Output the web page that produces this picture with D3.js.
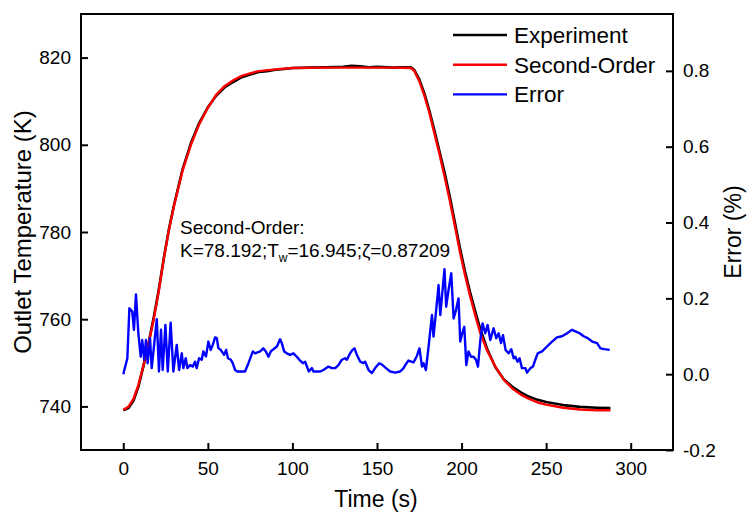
<!DOCTYPE html>
<html>
<head>
<meta charset="utf-8">
<script src="https://cdn.jsdelivr.net/npm/d3@7"></script>
<style>
  body { margin: 0; background: #fff; }
  text { font-family: Arial, "Liberation Sans", sans-serif; fill: #000; }
</style>
</head>
<body>
<div id="chart"></div>
<script>
// experiment (black)
const expTime = [0, 3, 6, 9, 12, 15, 18, 21, 24, 27, 30, 35, 40, 45, 50, 55, 60, 65, 70, 75, 80, 85, 90, 95, 100, 110, 120, 130, 135, 140, 145, 150, 160, 165, 170, 172, 175, 178, 181, 184, 187, 190, 193, 196, 199, 202, 205, 208, 211, 215, 220, 225, 230, 235, 240, 245, 250, 260, 270, 280, 288];
const expTemp = [739.1, 739.6, 741.3, 744.6, 749.4, 754.6, 760.4, 766.8, 774.1, 780.7, 786.2, 794.3, 800.4, 805.1, 808.6, 811.3, 813.2, 814.4, 815.5, 816.1, 816.7, 816.9, 817.2, 817.4, 817.6, 817.7, 817.8, 817.9, 818.1, 818.0, 817.8, 817.9, 817.7, 817.8, 817.8, 817.2, 815.0, 811.8, 807.8, 803.2, 798.4, 793.6, 788.2, 782.3, 776.4, 771.0, 766.2, 761.9, 757.8, 753.3, 749.0, 746.2, 744.5, 743.2, 742.2, 741.5, 741.0, 740.3, 739.9, 739.7, 739.6];

// second-order model (red)
const fitTime = [0, 3, 6, 9, 12, 15, 18, 21, 24, 27, 30, 35, 40, 45, 50, 55, 60, 65, 70, 75, 80, 90, 100, 120, 140, 160, 170, 172, 175, 178, 181, 184, 187, 190, 193, 196, 199, 202, 205, 208, 211, 215, 220, 225, 230, 235, 240, 245, 250, 260, 270, 280, 288];
const fitTemp = [739.2, 739.9, 741.7, 745.0, 749.5, 754.5, 760.0, 766.5, 774.0, 780.5, 786.0, 794.0, 800.0, 804.8, 808.5, 811.5, 813.5, 814.8, 815.8, 816.4, 816.9, 817.3, 817.6, 817.7, 817.7, 817.7, 817.6, 817.0, 814.6, 811.3, 807.3, 802.5, 797.8, 792.6, 787.3, 781.5, 775.5, 770.2, 765.4, 761.0, 756.9, 752.9, 749.1, 746.1, 744.1, 742.7, 741.7, 740.9, 740.4, 739.7, 739.3, 739.1, 739.1];

// error (blue, %)
const errTime = [0, 2.4, 3.6, 5.3, 6.3, 7.5, 8.9, 10.3, 11.2, 12.4, 13.4, 14.4, 15.8, 16.8, 19.8, 21.1, 22.3, 23.3, 24.9, 26.3, 28.0, 29.6, 31.6, 33.0, 34.6, 35.5, 36.9, 37.9, 39.5, 41.1, 42.4, 43.4, 44.8, 46.4, 47.3, 48.9, 50.3, 51.7, 52.9, 54.3, 55.3, 56.2, 57.6, 59.6, 60.8, 61.9, 63.6, 64.7, 66.1, 67.5, 70.1, 72.0, 74.0, 76.6, 77.9, 80.9, 82.8, 84.3, 85.8, 87.2, 90.8, 92.7, 93.7, 95.1, 96.7, 98.6, 100.6, 102.6, 104.1, 106.2, 107.5, 109.7, 110.5, 111.5, 112.4, 114.4, 116.4, 118.3, 121.3, 123.3, 125.3, 127.2, 129.2, 131.2, 132.2, 134.1, 135.5, 136.7, 138.1, 140.1, 142.0, 143.0, 145.0, 147.0, 148.9, 151.3, 153.3, 155.3, 157.8, 160.8, 163.7, 165.7, 166.7, 168.6, 171.6, 173.6, 175.1, 176.6, 177.5, 178.9, 180.5, 182.5, 183.4, 184.9, 186.4, 187.4, 188.4, 189.9, 190.9, 192.3, 193.9, 195.3, 196.7, 198.2, 199.2, 200.4, 201.6, 202.8, 204.1, 205.6, 207.1, 208.5, 209.7, 211.1, 212.4, 214.0, 215.4, 217.0, 218.9, 220.5, 221.9, 223.3, 224.5, 226.0, 227.8, 229.4, 230.8, 231.8, 233.1, 234.3, 235.7, 237.7, 238.7, 240.7, 242.2, 243.6, 245.0, 247.6, 250.5, 253.5, 256.4, 259.4, 262.4, 265.3, 267.3, 269.8, 272.2, 274.6, 277.2, 280.1, 282.1, 284.4, 287.6];
const errValue = [0.0, 0.042, 0.174, 0.165, 0.117, 0.21, 0.108, 0.046, 0.09, 0.038, 0.09, 0.029, 0.095, 0.016, 0.145, 0.007, 0.117, 0.011, 0.13, 0.007, 0.136, 0.007, 0.077, 0.011, 0.055, 0.016, 0.042, 0.016, 0.024, 0.02, 0.033, 0.016, 0.042, 0.038, 0.06, 0.047, 0.086, 0.064, 0.077, 0.097, 0.095, 0.069, 0.064, 0.051, 0.064, 0.042, 0.038, 0.029, 0.011, 0.007, 0.007, 0.007, 0.029, 0.06, 0.055, 0.06, 0.068, 0.06, 0.046, 0.06, 0.073, 0.092, 0.082, 0.06, 0.055, 0.051, 0.055, 0.046, 0.038, 0.029, 0.033, 0.007, 0.011, 0.016, 0.007, 0.007, 0.007, 0.011, 0.02, 0.016, 0.016, 0.024, 0.038, 0.042, 0.038, 0.055, 0.064, 0.068, 0.051, 0.033, 0.029, 0.033, 0.011, 0.003, 0.016, 0.029, 0.024, 0.016, 0.007, 0.004, 0.007, 0.016, 0.024, 0.036, 0.031, 0.048, 0.068, 0.02, 0.029, 0.011, 0.073, 0.156, 0.099, 0.165, 0.235, 0.156, 0.204, 0.277, 0.178, 0.222, 0.266, 0.147, 0.169, 0.2, 0.086, 0.108, 0.125, 0.024, 0.06, 0.046, 0.046, 0.038, 0.02, 0.09, 0.134, 0.108, 0.13, 0.09, 0.121, 0.095, 0.108, 0.082, 0.103, 0.064, 0.055, 0.066, 0.042, 0.046, 0.033, 0.042, 0.016, 0.016, 0.004, 0.016, 0.02, 0.038, 0.055, 0.06, 0.073, 0.086, 0.097, 0.1, 0.108, 0.117, 0.113, 0.108, 0.1, 0.095, 0.086, 0.082, 0.068, 0.066, 0.064];

const xTicks = [0, 50, 100, 150, 200, 250, 300];
const leftTicks = [740, 760, 780, 800, 820];
const rightTicks = [-0.2, 0.0, 0.2, 0.4, 0.6, 0.8];
const rightTickLabels = ["-0.2", "0.0", "0.2", "0.4", "0.6", "0.8"];

const seriesNames = ["Experiment", "Second-Order", "Error"];
const seriesColors = ["#000000", "#ff0000", "#0000ff"];

const W = 748, H = 513;
const plot = { left: 81, right: 673, top: 14, bottom: 450 };

const svg = d3.select("#chart").append("svg")
  .attr("width", W)
  .attr("height", H);

const x = d3.scaleLinear().domain([-25, 325]).range([plot.left, plot.right]);
const yL = d3.scaleLinear().domain([730, 830]).range([plot.bottom, plot.top]);
const yR = d3.scaleLinear().domain([-0.2, 0.95]).range([plot.bottom, plot.top]);

// Axes (ticks inward)
const gx = svg.append("g")
  .attr("transform", `translate(0,${plot.bottom})`)
  .call(d3.axisBottom(x).tickValues(xTicks).tickSize(-7).tickPadding(12));

const gl = svg.append("g")
  .attr("transform", `translate(${plot.left},0)`)
  .call(d3.axisLeft(yL).tickValues(leftTicks).tickSize(-7).tickPadding(10));

const gr = svg.append("g")
  .attr("transform", `translate(${plot.right},0)`)
  .call(d3.axisRight(yR).tickValues(rightTicks)
    .tickFormat((d, i) => rightTickLabels[i]).tickSize(-7).tickPadding(10));

[gx, gl, gr].forEach(g => {
  g.select(".domain").remove();
  g.selectAll(".tick line").attr("stroke", "#000").attr("stroke-width", 2);
  g.selectAll(".tick text").style("font-size", "19px").attr("fill", "#000");
});

// Lines
const lineL = d3.line().x(d => x(d[0])).y(d => yL(d[1]));
const lineR = d3.line().x(d => x(d[0])).y(d => yR(d[1]));

svg.append("path")
  .datum(d3.zip(expTime, expTemp))
  .attr("d", lineL)
  .attr("fill", "none")
  .attr("stroke", seriesColors[0])
  .attr("stroke-width", 2.6)
  .attr("stroke-linejoin", "round");

svg.append("path")
  .datum(d3.zip(fitTime, fitTemp))
  .attr("d", lineL)
  .attr("fill", "none")
  .attr("stroke", seriesColors[1])
  .attr("stroke-width", 2.4)
  .attr("stroke-linejoin", "round");

svg.append("path")
  .datum(d3.zip(errTime, errValue))
  .attr("d", lineR)
  .attr("fill", "none")
  .attr("stroke", seriesColors[2])
  .attr("stroke-width", 2.4)
  .attr("stroke-linejoin", "round");

// Frame
svg.append("rect")
  .attr("x", plot.left)
  .attr("y", plot.top)
  .attr("width", plot.right - plot.left)
  .attr("height", plot.bottom - plot.top)
  .attr("fill", "none")
  .attr("stroke", "#000")
  .attr("stroke-width", 2);

// Axis titles
const midY = (plot.top + plot.bottom) / 2;

svg.append("text")
  .attr("x", (plot.left + plot.right) / 2 - 1)
  .attr("y", 507)
  .attr("text-anchor", "middle")
  .style("font-size", "23px")
  .text("Time (s)");

svg.append("text")
  .attr("transform", `translate(31,${midY}) rotate(-90)`)
  .attr("text-anchor", "middle")
  .style("font-size", "24px")
  .text("Outlet Temperature (K)");

svg.append("text")
  .attr("transform", `translate(741,${midY}) rotate(-90)`)
  .attr("text-anchor", "middle")
  .style("font-size", "23px")
  .text("Error (%)");

// Annotation
svg.append("text")
  .attr("x", 180)
  .attr("y", 234)
  .style("font-size", "19px")
  .text("Second-Order:");

const ann = svg.append("text")
  .attr("x", 180)
  .attr("y", 257)
  .style("font-size", "19px");
ann.append("tspan").text("K=78.192;T");
ann.append("tspan").attr("dy", 5).style("font-size", "12px").text("w");
ann.append("tspan").attr("dy", -5).text("=16.945;ζ=0.87209");

// Legend
const legend = svg.append("g");
seriesNames.forEach((name, i) => {
  const yy = 35 + i * 29.7;
  legend.append("line")
    .attr("x1", 453).attr("x2", 507)
    .attr("y1", yy).attr("y2", yy)
    .attr("stroke", seriesColors[i])
    .attr("stroke-width", 2.4);
  legend.append("text")
    .attr("x", 514)
    .attr("y", yy + 8)
    .style("font-size", "22.5px")
    .text(name);
});
</script>
</body>
</html>
